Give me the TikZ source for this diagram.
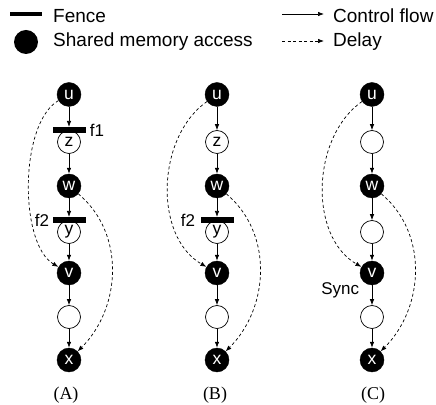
\documentclass[tikz,border=0pt]{standalone}
\usepackage{fontspec}
\setmainfont{Liberation Sans}
\newfontfamily\capfont{Liberation Serif}
\usetikzlibrary{arrows.meta, positioning}

\begin{document}
\begin{tikzpicture}[x=1pt, y=1pt,
    access/.style={circle, fill=black, draw=black, text=white, minimum size=24pt, inner sep=0pt, font=\fontsize{17.5}{17.5}\selectfont},
    hollow/.style={circle, draw=black, fill=white, line width=0.7pt, minimum size=23pt, inner sep=0pt, font=\fontsize{17.5}{17.5}\selectfont},
    fencebar/.style={fill=black, minimum width=33pt, minimum height=6pt, inner sep=0pt},
    flow/.style={-{Latex[length=6pt, width=4.5pt]}, line width=0.7pt},
    delay/.style={flow, dash pattern=on 3pt off 2.5pt},
    lbl/.style={inner sep=1pt, font=\fontsize{17}{17}\selectfont},
    legend/.style={anchor=base west, inner sep=0pt, font=\fontsize{19}{19}\selectfont}]
    \useasboundingbox (0,0) rectangle (436,404);

    % legend
    \node[fencebar, minimum width=32pt, minimum height=4pt] (legfence) at (26,390) {};
    \node[legend] (legfencetxt) at (53,381) {Fence};
    \node[circle, fill=black, minimum size=24pt, inner sep=0pt] (legdot) at (26,362) {};
    \node[legend] (legdottxt) at (53,357) {Shared memory access};
    \coordinate (cfa) at (282,390);
    \coordinate (cfb) at (324,390);
    \draw[flow] (cfa) -- (cfb);
    \node[legend] (legflow) at (333,381) {Control flow};
    \coordinate (dla) at (282,363);
    \coordinate (dlb) at (324,363);
    \draw[delay] (dla) -- (dlb);
    \node[legend] (legdelay) at (333,357) {Delay};

    % the three graphs
    \foreach \col/\cx/\lz/\ly in {A/69/z/y, B/217/z/y, C/372//} {
      \foreach \i/\y/\lab in {1/309.5/u, 3/218/w, 5/131/v, 7/44/x}
        \node[access] (\col\i) at (\cx,\y) {\lab};
      \foreach \i/\y/\lab in {2/262/\lz, 4/172/\ly, 6/87/}
        \node[hollow] (\col\i) at (\cx,\y) {\lab};
    }

    \node[fencebar] (fA1) at (A2.north) {};
    \node[fencebar] (fA2) at (A4.north) {};
    \node[fencebar] (fB2) at (B4.north) {};
    \node[lbl, right=3pt of fA1] (f1) {f1};
    \node[lbl, left=2pt of fA2] (f2a) {f2};
    \node[lbl, left=4pt of fB2] (f2b) {f2};
    \node[lbl, below left=0pt and 3pt of C5] (sync) {Sync};

    \foreach \col in {A,B,C}
      \foreach \i/\j in {2/3, 4/5, 5/6, 6/7}
        \draw[flow] (\col\i) -- (\col\j);
    \draw[flow] (A1) -- (fA1);
    \draw[flow] (A3) -- (fA2);
    \draw[flow] (B1) -- (B2);
    \draw[flow] (B3) -- (fB2);
    \draw[flow] (C1) -- (C2);
    \draw[flow] (C3) -- (C4);

    \draw[delay] (A1) to[out=210, in=150, looseness=0.7] (A5);
    \draw[delay] (A3) to[out=-40, in=45, looseness=1.0] (A7);
    \foreach \col in {B,C} {
      \draw[delay] (\col1) to[out=215, in=150, looseness=0.95] (\col5);
      \draw[delay] (\col3) to[out=-40, in=45, looseness=1.0] (\col7);
    }

    \foreach \col/\cx in {A/66, B/215, C/373}
      \node[anchor=base, font=\capfont\fontsize{18}{18}\selectfont] (cap\col) at (\cx,4.5) {(\col)};
  \end{tikzpicture}
\end{document}
